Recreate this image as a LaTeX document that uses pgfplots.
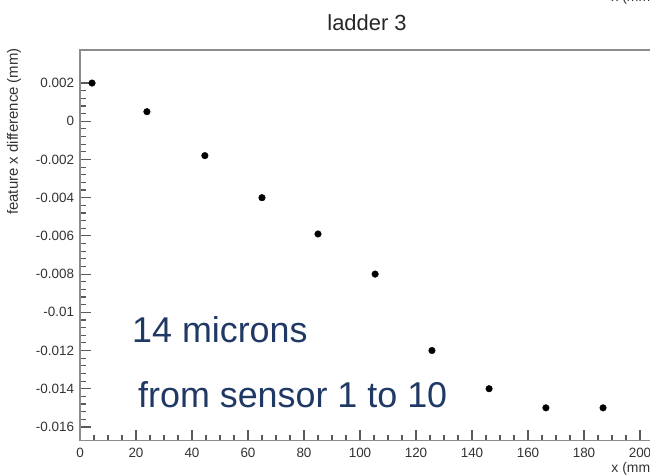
\documentclass[border=0pt]{standalone}
\usepackage{pgfplots}
\pgfplotsset{compat=1.18}
\usepackage{fontspec}
\setmainfont{Liberation Sans}
\definecolor{navy}{RGB}{31,56,100}
\definecolor{framegray}{RGB}{140,140,140}
\definecolor{tickgray}{RGB}{90,90,90}
\begin{document}
\begin{tikzpicture}
\useasboundingbox (0bp,0bp) rectangle (650bp,475bp);
\clip (0bp,0bp) rectangle (650bp,475bp);
\begin{axis}[
  at={(80bp,34.3bp)}, anchor=south west,
  scale only axis, width=575bp, height=390.7bp,
  xmin=0, xmax=205.36,
  ymin=-0.01672, ymax=0.00373,
  axis line style={framegray, line width=1.4pt},
  tick align=inside, xtick pos=bottom, ytick pos=left,
  major tick length=11bp, minor tick length=6bp,
  major tick style={draw=tickgray, line width=1.2pt},
  minor tick style={draw=tickgray, line width=1.1pt},
  xtick={0,20,...,200},
  minor x tick num=3,
  ytick={0.002,0,-0.002,-0.004,-0.006,-0.008,-0.01,-0.012,-0.014,-0.016},
  yticklabels={0.002,0,-0.002,-0.004,-0.006,-0.008,-0.01,-0.012,-0.014,-0.016},
  minor y tick num=4,
  /pgf/number format/assume math mode=true,
  ticklabel style={font=\fontsize{13.5}{13.5}\selectfont, text=black!80},
  xticklabel style={yshift=-3.5bp},
  yticklabel style={xshift=-2.4bp},
  scaled y ticks=false,
  clip=false,
]
\addplot[only marks, mark=*, mark size=3.3bp, mark options={fill=black, draw=black}]
coordinates {
 (4.3,0.0020) (23.9,0.0005) (44.6,-0.0018) (65.0,-0.0040) (85.0,-0.0059)
 (105.4,-0.0080) (125.7,-0.0120) (146.1,-0.0140) (166.4,-0.0150) (186.8,-0.0150)
};
\end{axis}
\node[anchor=base, font=\fontsize{22}{22}\selectfont, text=black!85] at (367bp,444bp) {ladder 3};
\node[rotate=90, anchor=east, font=\fontsize{15}{15}\selectfont, text=black!80, inner sep=0pt] at (14bp,427bp) {feature x difference (mm)};
\node[anchor=base east, font=\fontsize{14}{14}\selectfont, text=black!80, inner sep=0pt] at (655bp,3bp) {x (mm)};
\node[anchor=base east, font=\fontsize{14}{14}\selectfont, text=black!80, inner sep=0pt] at (655bp,473bp) {x (mm)};
\node[anchor=base west, font=\fontsize{36}{36}\selectfont, text=navy, inner sep=0pt] at (132bp,132bp) {14 microns};
\node[anchor=base west, font=\fontsize{36}{36}\selectfont, text=navy, inner sep=0pt] at (138bp,67bp) {from sensor 1 to 10};
\end{tikzpicture}
\end{document}
